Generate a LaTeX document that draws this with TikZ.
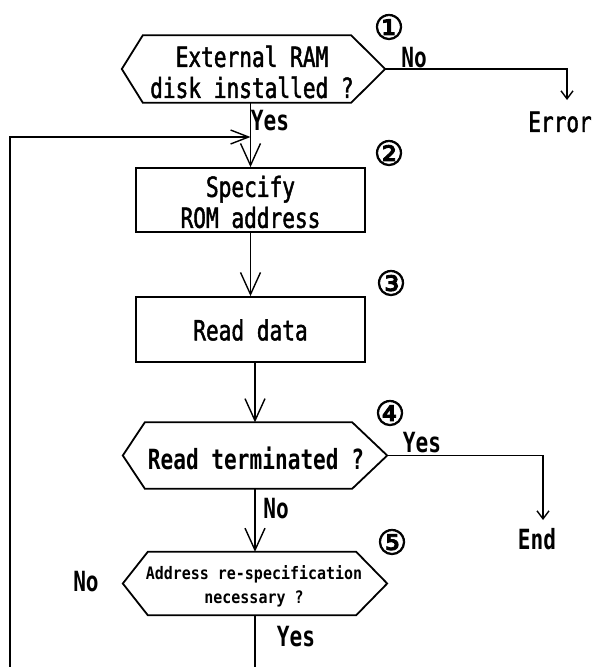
\documentclass[tikz,border=0pt]{standalone}
\usepackage{fontspec}
\usetikzlibrary{arrows.meta}
\newfontfamily\monobig{DejaVu Sans Mono}[FakeStretch=0.76]
\newfontfamily\monomid{DejaVu Sans Mono}[FakeStretch=0.76, FakeBold=1.6]
\newfontfamily\monosmall{DejaVu Sans Mono}[FakeStretch=0.87]
\newfontfamily\circfont{DejaVu Sans}[FakeBold=2.5]

% hexagonal decision outline drawn around an empty frame node
\newcommand\hexframe[3]{%
  \draw[frameline] ([xshift=#2]#1.north west) -- ([xshift=-#3]#1.north east) -- (#1.east)
    -- ([xshift=-#3]#1.south east) -- ([xshift=#2]#1.south west) -- (#1.west) -- cycle;}

\begin{document}
\begin{tikzpicture}[x=1pt,y=-1pt,
  frameline/.style={line width=1.8pt, line join=miter},
  hexnode/.style={inner sep=0pt, minimum width=264pt},
  boxnode/.style={draw, line width=1.8pt, inner sep=0pt, minimum width=229pt},
  midtext/.style={inner sep=0pt, align=center, font={\monomid\fontsize{27.8}{31}\selectfont}},
  boldtext/.style={inner sep=0pt, align=center, font={\monobig\bfseries\fontsize{27.8}{31}\selectfont}},
  smalltext/.style={inner sep=0pt, align=center, font={\monosmall\bfseries\fontsize{17.2}{24}\selectfont}},
  circnum/.style={inner sep=0pt, font={\circfont\fontsize{34}{34}\selectfont}},
  flow/.style={line width=1.4pt, -{Straight Barb[length=22pt,width=20pt]}},
  loopflow/.style={line width=1.4pt, -{Straight Barb[length=18pt,width=14pt]}},
  exitflow/.style={line width=1.4pt, -{Straight Barb[length=8pt,width=12pt]}},
  plain/.style={line width=1.4pt}]

\useasboundingbox[fill=white] (0,0) rectangle (592,667);

% ---- step frames ----
\node[hexnode, minimum width=263pt, minimum height=67pt] (d1) at (253.5,69) {};
\hexframe{d1}{21}{34}
\node[boxnode, minimum height=64pt] (b2) at (250.5,200) {};
\node[boxnode, minimum height=65pt] (b3) at (250.5,329.5) {};
\node[hexnode, minimum height=66pt] (d4) at (255,455.5) {};
\hexframe{d4}{22}{35}
\node[hexnode, minimum height=63pt] (d5) at (255,583.5) {};
\hexframe{d5}{25}{31}

% ---- step texts ----
\node[midtext] (t1) at (252,72) {External RAM\\disk installed ?};
\node[midtext] (t2) at (250.5,202) {Specify\\ROM address};
\node[midtext] (t3) at (250.5,330) {Read data};
\node[boldtext] (t4) at (256,458) {Read terminated ?};
\node[smalltext] (t5) at (254,586) {Address re-specification\\necessary ?};

% ---- step numbers ----
\node[circnum] (n1) at (389,27) {①};
\node[circnum] (n2) at (389,153) {②};
\node[circnum] (n3) at (391,283) {③};
\node[circnum] (n4) at (390,413) {④};
\node[circnum] (n5) at (392,542) {⑤};

% ---- branch labels and terminals ----
\node[boldtext] (no1) at (414,58) {No};
\node[midtext] (err) at (560,122) {Error};
\node[boldtext] (yes1) at (270,121) {Yes};
\node[boldtext] (yes4) at (422,443) {Yes};
\node[boldtext] (endn) at (537,539) {End};
\node[boldtext] (no4) at (276,509) {No};
\node[boldtext] (yes5) at (296,637) {Yes};
\node[boldtext] (no5) at (86,582) {No};

% ---- free ends ----
\coordinate (errtip) at (567,100);
\coordinate (endtip) at (543,520);
\coordinate (j1) at (250.5,137);
\coordinate (loopin) at (10,667);
\coordinate (bot) at (255,667);

% ---- connectors ----
\draw[flow] (b2.north |- d1.south) -- (b2.north);
\draw[loopflow] (loopin) |- (j1);
\draw[flow] (b2.south) -- (b3.north);
\draw[flow] (b3.south -| d4.north) -- (d4.north);
\draw[flow] (d4.south) -- (d5.north);
\draw[plain] (d5.south) -- (bot);
\draw[exitflow] (d1.east) -| (errtip);
\draw[exitflow] (d4.east) -| (endtip);
\end{tikzpicture}
\end{document}
